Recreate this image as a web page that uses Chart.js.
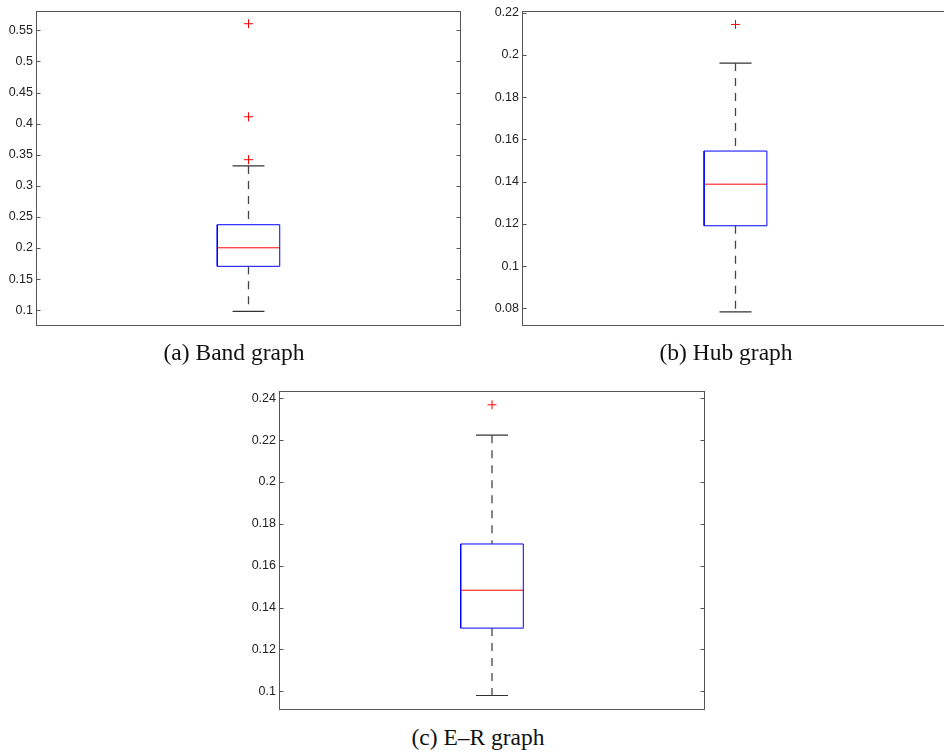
<!DOCTYPE html>
<html>
<head>
<meta charset="utf-8">
<script src="https://cdn.jsdelivr.net/npm/chart.js@4/dist/chart.umd.min.js"></script>
<style>
  html, body { margin: 0; padding: 0; background: #fff; overflow: hidden; }
  #wrap { position: relative; width: 944px; height: 755px; overflow: hidden; }
  canvas { position: absolute; }
  .cap { position: absolute; font-family: "Liberation Serif", "Times New Roman", serif; font-size: 23.5px; color: #111; white-space: nowrap; transform: translateX(-50%); line-height: 1; }
</style>
</head>
<body>
<div id="wrap">
  <canvas id="cA" width="470" height="340" style="left:0px;top:0px;width:470px;height:340px"></canvas>
  <canvas id="cB" width="490" height="340" style="left:470px;top:0px;width:490px;height:340px"></canvas>
  <canvas id="cC" width="490" height="350" style="left:230px;top:370px;width:490px;height:350px"></canvas>
  <div class="cap" id="tA" style="left:234px;top:341px"></div>
  <div class="cap" id="tB" style="left:726px;top:341px"></div>
  <div class="cap" id="tC" style="left:478px;top:726px"></div>
</div>
<script>
// ---- data ----
const captions = ['(a) Band graph', '(b) Hub graph', '(c) E\u2013R graph'];
const lowerWhisker = [0.098, 0.0783, 0.098];
const q1Values = [0.1705, 0.1191, 0.1302];
const medianValues = [0.2003, 0.1388, 0.1483];
const q3Values = [0.2374, 0.1545, 0.1704];
const upperWhisker = [0.332, 0.1962, 0.2224];
const outliersA = [0.342, 0.411, 0.5607];
const outliersB = [0.2145];
const outliersC = [0.2369];
const yTicksA = [0.1, 0.15, 0.2, 0.25, 0.3, 0.35, 0.4, 0.45, 0.5, 0.55];
const yTicksB = [0.08, 0.1, 0.12, 0.14, 0.16, 0.18, 0.2, 0.22];
const yTicksC = [0.1, 0.12, 0.14, 0.16, 0.18, 0.2, 0.22, 0.24];
const yMinValues = [0.0745, 0.0716, 0.0913];
const yMaxValues = [0.582, 0.2211, 0.2435];

// ---- layout (not data) ----
const layouts = [
  { id: 'cA', axisW: 36, top: 7, right: 9, bottom: 14 },
  { id: 'cB', axisW: 52, top: 7, right: 11, bottom: 14 },
  { id: 'cC', axisW: 49, top: 21, right: 15, bottom: 10 }
];
const outlierSets = [outliersA, outliersB, outliersC];
const tickSets = [yTicksA, yTicksB, yTicksC];
const BOX_HW = 0.147, CAP_HW = 0.075;

const framePlugin = {
  id: 'frame',
  afterDraw(chart) {
    const ca = chart.chartArea, ctx = chart.ctx, ys = chart.scales.y;
    ctx.save();
    ctx.strokeStyle = '#555';
    ctx.lineWidth = 1;
    const L = Math.round(ca.left) + 0.5, R = Math.round(ca.right) - 0.5;
    const T = Math.round(ca.top) + 0.5, B = Math.round(ca.bottom) - 0.5;
    ctx.strokeRect(L, T, R - L, B - T);
    ctx.beginPath();
    ys.ticks.forEach(t => {
      const y = Math.round(ys.getPixelForValue(t.value)) + 0.5;
      ctx.moveTo(L, y); ctx.lineTo(L + 4, y);
      ctx.moveTo(R, y); ctx.lineTo(R - 4, y);
    });
    ctx.stroke();
    ctx.restore();
  }
};

function seg(x1, y1, x2, y2) { return [{ x: x1, y: y1 }, { x: x2, y: y2 }]; }

function makeChart(i) {
  const lay = layouts[i];
  const q1 = q1Values[i], q3 = q3Values[i], med = medianValues[i];
  const lo = lowerWhisker[i], hi = upperWhisker[i];
  const lineDs = (data, color, dash, w) => ({
    data, showLine: true, borderColor: color, borderWidth: w || 1, borderDash: dash || [],
    pointRadius: 0, pointHoverRadius: 0, fill: false, tension: 0
  });
  const datasets = [
    lineDs(seg(0, hi, 0, q3), '#444', [8, 7], 1.3),
    lineDs(seg(0, q1, 0, lo), '#444', [8, 7], 1.3),
    lineDs(seg(-CAP_HW, hi, CAP_HW, hi), '#333', [], 1.2),
    lineDs(seg(-CAP_HW, lo, CAP_HW, lo), '#333', [], 1.2),
    lineDs([{ x: -BOX_HW, y: q1 }, { x: BOX_HW, y: q1 }, { x: BOX_HW, y: q3 }, { x: -BOX_HW, y: q3 }, { x: -BOX_HW, y: q1 }], '#0000ff'),
    lineDs(seg(-BOX_HW, med, BOX_HW, med), '#ff0000'),
    {
      data: outlierSets[i].map(v => ({ x: 0, y: v })),
      showLine: false, pointStyle: 'cross', pointRadius: 4.5, pointHoverRadius: 4.5,
      borderColor: '#ff0000', borderWidth: 1, backgroundColor: '#ff0000'
    }
  ];
  const ticks = tickSets[i];
  new Chart(document.getElementById(lay.id), {
    type: 'scatter',
    data: { datasets },
    options: {
      responsive: false, animation: false, events: [],
      layout: { padding: { left: 0, top: lay.top, right: lay.right, bottom: lay.bottom } },
      plugins: { legend: { display: false }, tooltip: { enabled: false } },
      scales: {
        x: { type: 'linear', min: -1, max: 1, display: false },
        y: {
          type: 'linear', position: 'left', min: yMinValues[i], max: yMaxValues[i],
          afterFit(s) { s.width = lay.axisW; },
          afterBuildTicks(s) { s.ticks = ticks.map(v => ({ value: v })); },
          grid: { display: false, drawTicks: false },
          border: { display: false },
          ticks: {
            padding: 3, color: '#222',
            font: { family: '"Liberation Sans", Arial, sans-serif', size: 12.5 },
            callback: v => String(v)
          }
        }
      }
    },
    plugins: [framePlugin]
  });
}

[0, 1, 2].forEach(makeChart);
['tA', 'tB', 'tC'].forEach((id, i) => { document.getElementById(id).textContent = captions[i]; });
</script>
</body>
</html>
